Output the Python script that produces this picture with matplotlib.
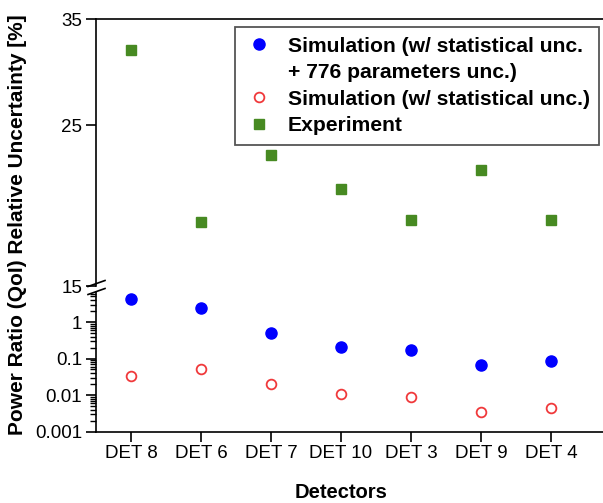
import numpy as np
import matplotlib.pyplot as plt
from matplotlib.lines import Line2D
from matplotlib.ticker import NullLocator, LogLocator, NullFormatter

plt.rcParams['font.family'] = ['Liberation Sans', 'DejaVu Sans']

# data
detectors = ['DET 8', 'DET 6', 'DET 7', 'DET 10', 'DET 3', 'DET 9', 'DET 4']
sim_total = [4.35, 2.46, 0.51, 0.21, 0.174, 0.066, 0.084]
sim_stat = [0.0338, 0.0526, 0.0204, 0.0109, 0.0090, 0.00336, 0.0044]
experiment = [31.7, 18.4, 22.7, 20.4, 18.5, 21.7, 18.5]

x = np.arange(len(detectors))

blue = '#0000ff'
red = '#f0393b'
green = '#478a22'

fig = plt.figure(figsize=(6.03, 5.03), dpi=100)
W, H = 603.0, 503.0
left = 96 / W
width = 1.0 - left
ax_top = fig.add_axes([left, 1 - 286 / H, width, (286 - 19) / H])
ax_bot = fig.add_axes([left, 1 - 431.5 / H, width, (431.5 - 292) / H])

for ax in (ax_top, ax_bot):
    ax.set_xlim(-0.5, 6.743)
    ax.spines['right'].set_visible(False)
    for s in ax.spines.values():
        s.set_linewidth(1.2)
    ax.tick_params(axis='both', which='major', direction='out', length=7,
                   width=1.2, labelsize=13.5, pad=3)
    ax.tick_params(axis='y', which='minor', direction='out', length=4, width=1.0)

# upper panel: experiment
ax_top.plot(x, experiment, linestyle='none', marker='s', markersize=7.2,
            color=green, label='Experiment')
ax_top.set_yscale('log')
ax_top.set_ylim(15, 35)
ax_top.yaxis.set_minor_locator(NullLocator())
ax_top.yaxis.set_minor_formatter(NullFormatter())
ax_top.set_yticks([15, 25, 35])
ax_top.set_yticklabels(['15', '25', '35'])
ax_top.spines['bottom'].set_visible(False)
ax_top.tick_params(axis='x', which='both', bottom=False, labelbottom=False)

# lower panel: simulation
ax_bot.plot(x, sim_total, linestyle='none', marker='o', markersize=8,
            color=blue)
ax_bot.plot(x, sim_stat, linestyle='none', marker='o', markersize=7,
            markerfacecolor='white', markeredgecolor=red, markeredgewidth=1.3)
ax_bot.set_yscale('log')
ax_bot.set_ylim(0.001, 6.64)
ax_bot.set_yticks([0.001, 0.01, 0.1, 1])
ax_bot.set_yticklabels(['0.001', '0.01', '0.1', '1'])
ax_bot.yaxis.set_minor_locator(LogLocator(base=10, subs=np.arange(2, 10)))
ax_bot.yaxis.set_minor_formatter(NullFormatter())
ax_bot.spines['top'].set_visible(False)
ax_bot.set_xticks(x)
ax_bot.set_xticklabels(detectors)

# break marks on the left spine
kw = dict(transform=fig.transFigure, color='black', linewidth=1.2, clip_on=False)
fig.add_artist(Line2D([88 / W, 105 / W], [1 - 286.5 / H, 1 - 280.5 / H], **kw))
fig.add_artist(Line2D([88 / W, 105 / W], [1 - 294.5 / H, 1 - 288.5 / H], **kw))

fig.text(18 / W, 1 - 225 / H, 'Power Ratio (QoI) Relative Uncertainty [%]',
         rotation=90, ha='center', va='center', fontsize=15, fontweight='bold')
fig.text(341 / W, 1 - 492 / H, 'Detectors', ha='center', va='center',
         fontsize=14.5, fontweight='bold')

handles = [
    Line2D([], [], linestyle='none', marker='o', markersize=8, color=blue),
    Line2D([], [], linestyle='none', marker=''),
    Line2D([], [], linestyle='none', marker='o', markersize=7,
           markerfacecolor='white', markeredgecolor=red, markeredgewidth=1.3),
    Line2D([], [], linestyle='none', marker='s', markersize=7.2, color=green),
]
labels = ['Simulation (w/ statistical unc.', '+ 776 parameters unc.)',
          'Simulation (w/ statistical unc.)', 'Experiment']
leg = fig.legend(handles, labels, loc='upper left',
                 bbox_to_anchor=(235 / W, 1 - 27 / H),
                 prop={'weight': 'bold', 'size': 15.2}, frameon=True,
                 fancybox=False, framealpha=1, edgecolor='#555555',
                 handlelength=1.4, handletextpad=0.65, labelspacing=0.36,
                 borderpad=0.45, borderaxespad=0)
leg.get_frame().set_linewidth(1.3)

fig.savefig('out.png', dpi=100)
